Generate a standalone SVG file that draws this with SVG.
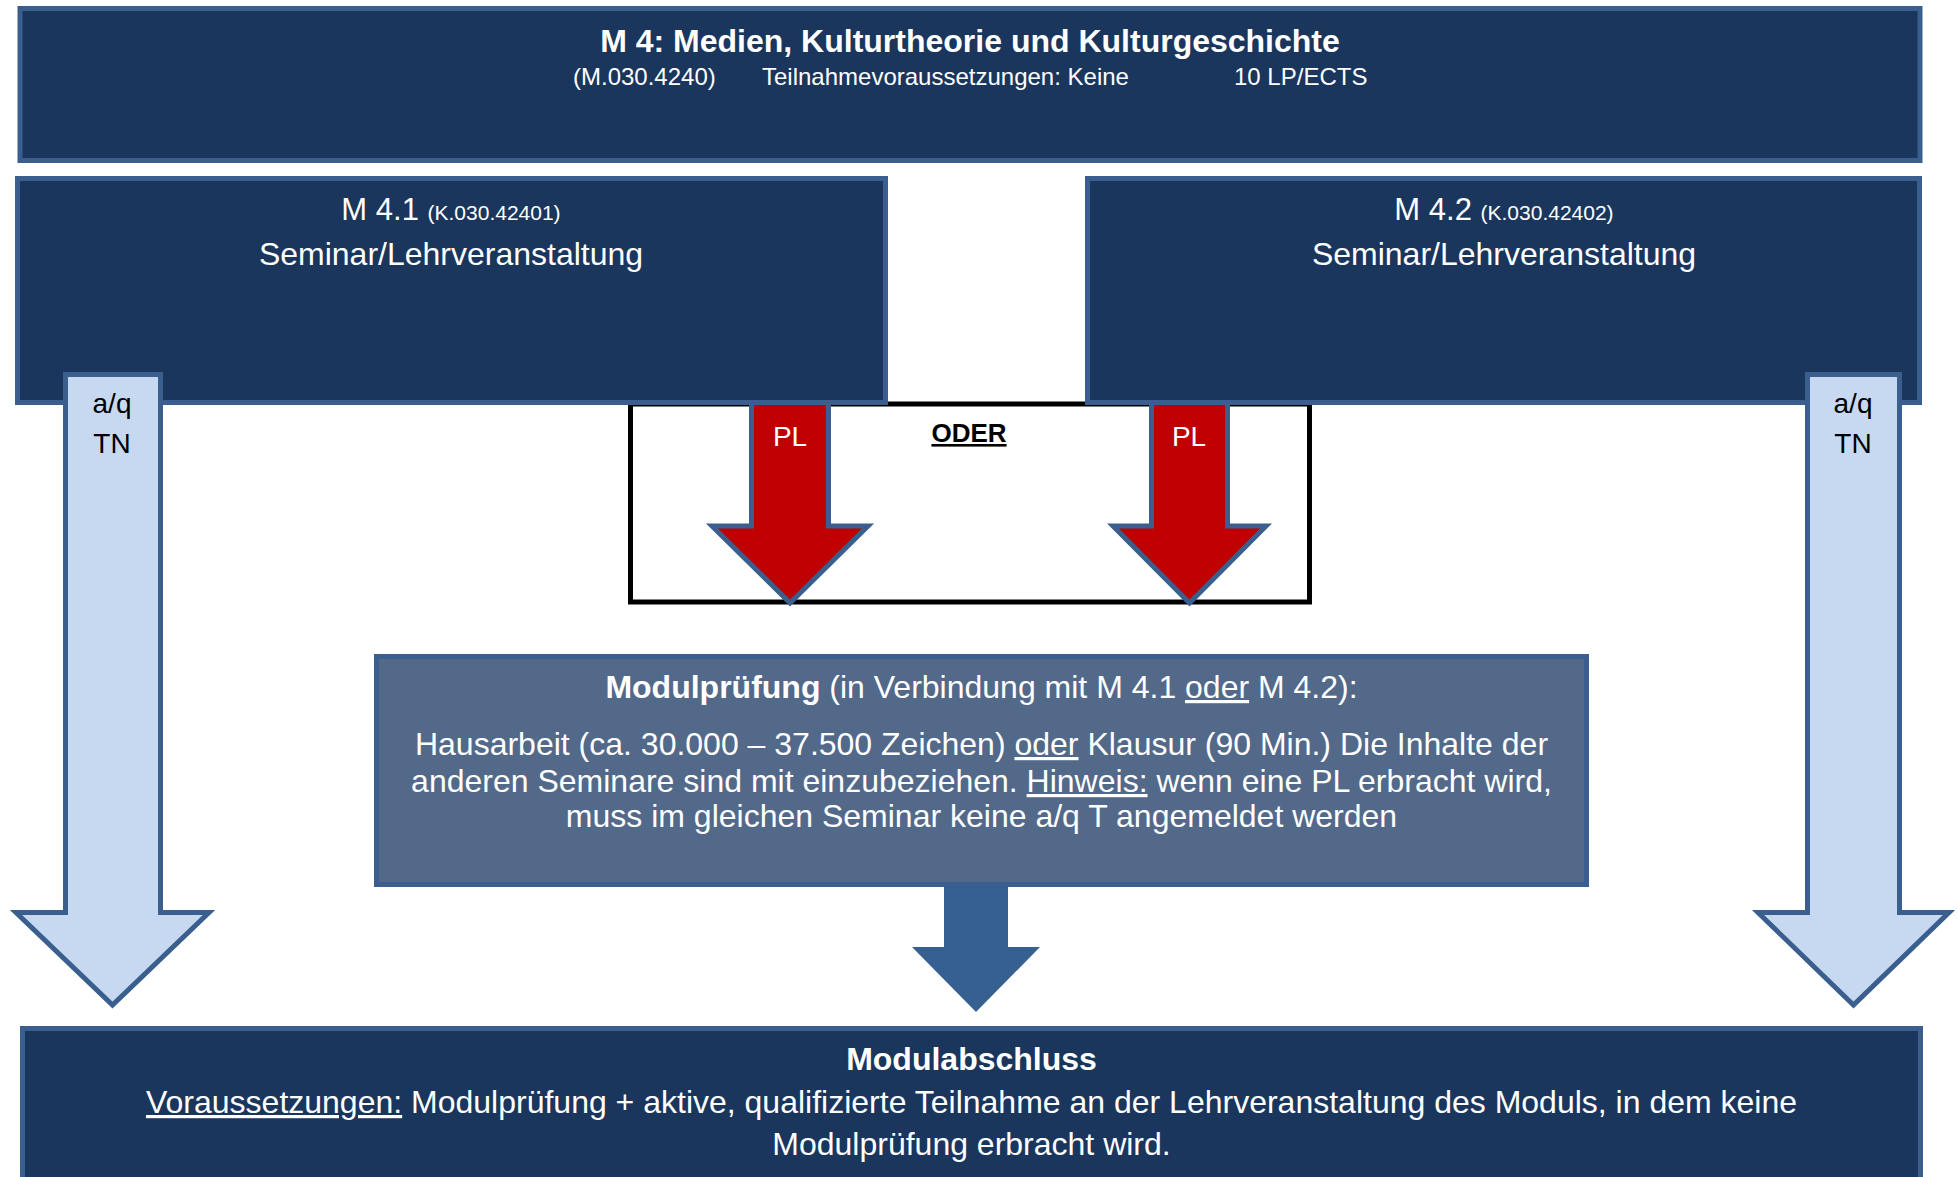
<svg xmlns="http://www.w3.org/2000/svg" width="1957" height="1177" viewBox="0 0 1957 1177">
<style>
.box{fill:#1A365D;stroke:#3A5F8E;stroke-width:5}
.mp{fill:#53698A;stroke:#3A5F8E;stroke-width:5}
.t{font-family:"Liberation Sans",Arial,sans-serif;fill:#fff}
.k{font-family:"Liberation Sans",Arial,sans-serif;fill:#000}
.b{font-weight:bold}
.c{text-anchor:middle}
.light{fill:#C6D9F1;stroke:#3A5F8E;stroke-width:5;stroke-linejoin:miter}
.red{fill:#C00000;stroke:#3A5F8E;stroke-width:5}
.dark{fill:#366092}
</style>
<rect width="1957" height="1177" fill="#fff"/>

<g id="oder">
<rect x="630.5" y="404" width="679" height="198" fill="#fff" stroke="#000" stroke-width="5"/>
<text class="k b c" x="969" y="442" font-size="26" text-decoration="underline">ODER</text>
</g>

<g id="connectors">
<polygon class="red" points="751.5,398 828.5,398 828.5,526 868,526 790,603 712,526 751.5,526"/>
<polygon class="red" points="1151.5,398 1227.5,398 1227.5,526 1266,526 1189.5,603 1113,526 1151.5,526"/>
<text class="t c" x="790" y="446" font-size="28">PL</text>
<text class="t c" x="1189" y="446" font-size="28">PL</text>
<polygon class="dark" points="944,878 1008,878 1008,947 1040,947 976,1012 912,947 944,947"/>
</g>

<g id="m4">
<rect class="box" x="20" y="8.5" width="1900" height="152"/>
<text class="t b c" x="970" y="52" font-size="32">M 4: Medien, Kulturtheorie und Kulturgeschichte</text>
<text class="t" x="573" y="85" font-size="24">(M.030.4240)</text>
<text class="t" x="762" y="85" font-size="24">Teilnahmevoraussetzungen: Keine</text>
<text class="t" x="1234" y="85" font-size="24">10 LP/ECTS</text>
</g>

<g id="m41">
<rect class="box" x="17.5" y="178.5" width="868" height="224"/>
<text class="t c" x="451" y="220" font-size="31">M 4.1 <tspan font-size="21">(K.030.42401)</tspan></text>
<text class="t c" x="451" y="265" font-size="32">Seminar/Lehrveranstaltung</text>
</g>

<g id="m42">
<rect class="box" x="1087.5" y="178.5" width="832" height="224"/>
<text class="t c" x="1504" y="220" font-size="31">M 4.2 <tspan font-size="21">(K.030.42402)</tspan></text>
<text class="t c" x="1504" y="265" font-size="32">Seminar/Lehrveranstaltung</text>
</g>

<g id="tn-arrows">
<polygon class="light" points="65.5,374.5 160.5,374.5 160.5,912.5 209,912.5 112.5,1005 16,912.5 65.5,912.5"/>
<text class="k c" x="112" y="413" font-size="28">a/q</text>
<text class="k c" x="112" y="453" font-size="28">TN</text>
<polygon class="light" points="1807.5,374.5 1899.5,374.5 1899.5,912.5 1949,912.5 1853.5,1005 1758,912.5 1807.5,912.5"/>
<text class="k c" x="1853" y="413" font-size="28">a/q</text>
<text class="k c" x="1853" y="453" font-size="28">TN</text>
</g>

<g id="modulpruefung">
<rect class="mp" x="376.5" y="656.5" width="1210" height="228"/>
<text class="t c" x="981.5" y="698" font-size="32"><tspan class="b">Modulprüfung</tspan> (in Verbindung mit M 4.1 <tspan text-decoration="underline">oder</tspan> M 4.2):</text>
<text class="t c" x="981.5" y="755" font-size="32">Hausarbeit (ca. 30.000 – 37.500 Zeichen) <tspan text-decoration="underline">oder</tspan> Klausur (90 Min.) Die Inhalte der</text>
<text class="t c" x="981.5" y="792" font-size="32">anderen Seminare sind mit einzubeziehen. <tspan text-decoration="underline">Hinweis:</tspan> wenn eine PL erbracht wird,</text>
<text class="t c" x="981.5" y="827" font-size="32">muss im gleichen Seminar keine a/q T angemeldet werden</text>
</g>

<g id="modulabschluss">
<rect class="box" x="22.5" y="1028.5" width="1898" height="165"/>
<text class="t b c" x="971.5" y="1070" font-size="32">Modulabschluss</text>
<text class="t c" x="971.5" y="1113" font-size="32"><tspan text-decoration="underline">Voraussetzungen:</tspan> Modulprüfung + aktive, qualifizierte Teilnahme an der Lehrveranstaltung des Moduls, in dem keine</text>
<text class="t c" x="971.5" y="1155" font-size="32">Modulprüfung erbracht wird.</text>
</g>
</svg>
